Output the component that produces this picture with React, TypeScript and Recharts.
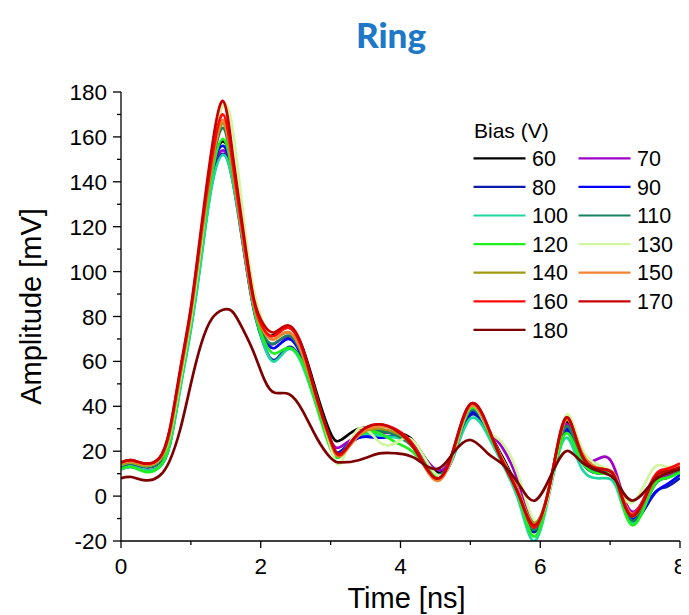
import React from "react";
import { LineChart, Line, XAxis, YAxis } from "recharts";

// Sample times (ns)
const time = [0, 0.15, 0.35, 0.55, 0.7, 0.85, 1.0, 1.15, 1.3, 1.46, 1.6, 1.75, 1.9, 2.05, 2.2, 2.4, 2.6, 2.8, 3.0, 3.15, 3.4, 3.7, 3.95, 4.2, 4.5, 4.75, 5.0, 5.25, 5.45, 5.7, 5.92, 6.15, 6.37, 6.6, 6.9, 7.1, 7.32, 7.6, 7.8, 8.0];

// Amplitude (mV) per bias voltage
const v60 = [13, 14.5, 13, 15, 26, 52, 79, 112, 145, 158, 145, 114, 86, 73, 72, 75, 66, 46, 28, 25, 30, 29.4, 28, 24, 11, 19, 39, 30, 18, 1, -14, 6, 33, 18, 11, 7, -10, 4, 9, 12];
const v70 = [13, 14.5, 13, 15, 25, 51, 77, 110, 142, 154, 142, 112, 84, 70, 68, 71, 62, 43, 25, 22, 27, 28, 28, 23, 12, 19, 38, 30, 22, 5, -12, 6, 32, 17, 17.5, 9, -7, 5, 9, 12];
const v80 = [12, 13, 11.5, 13, 23, 49, 75, 107, 139, 152.5, 140, 111, 83, 67, 60.6, 66.4, 59, 41, 23, 20, 26, 26, 27, 22, 10, 17, 36, 28, 16, -2, -16, 5, 29, 15, 10, 5, -11, 0, 4, 8];
const v90 = [13, 14.5, 13, 15, 25, 51, 78, 111, 144, 156, 143, 113, 84, 70, 66, 70, 61, 42, 23, 20, 26, 26, 27, 22, 10, 18, 37, 29, 16, -1, -15, 6, 30, 16, 11, 6, -10, -0.4, 5, 9.5];
const v100 = [12, 13, 11.5, 13, 23, 48, 74, 106, 138, 152, 140, 112, 84, 67, 60, 65.5, 58, 40, 22, 19, 27, 27, 26, 21, 10, 17, 34.5, 27, 15, -3, -20, 4, 26, 12, 8, 3, -12, 3, 8, 11];
const v110 = [13, 14.5, 13, 15, 26, 53, 80, 114, 146, 164, 144, 113, 85, 71, 68, 71.5, 62, 42, 23, 19, 27, 29, 27, 21, 10, 18, 38, 29, 17, 0, -15, 6, 31, 17, 11, 6, -11, 3, 8, 11];
const v120 = [12, 13, 10.8, 13, 24, 50, 77, 110, 143, 159, 143, 113, 84, 69, 63.5, 66, 59, 40, 21, 18, 27, 28, 23.6, 19, 9, 18, 39, 29, 16, -1, -18, 5, 28, 15, 10, 5, -13, 3, 8, 10.5];
const v130 = [14, 15, 13.5, 16, 27, 52, 79, 113, 150, 174, 163, 125, 92, 76, 70, 73, 64, 44, 22, 15, 30, 24, 24, 24, 10, 18, 40, 30, 24, 8, -11, 5, 36, 21, 13, 6, -3, 11.5, 13, 14];
const v140 = [14, 15, 13.5, 16, 28, 54, 81, 115, 147, 166, 145, 113, 85, 73, 70, 73, 63, 43, 24, 18, 27, 30, 28, 21, 8, 19, 40, 30, 17, 1, -12, 7, 34, 19, 12, 7, -9, 5, 10, 12];
const v150 = [14.5, 15.5, 14, 16.5, 29, 55, 82, 116, 148, 167.5, 146, 114, 86, 73, 70, 73, 63, 43, 24, 18, 27, 31, 29, 21, 7, 19, 40, 30, 17, 1, -13, 7, 34, 19, 12, 7, -8, 6, 11, 13];
const v160 = [15, 16, 14.5, 17, 30, 56, 83, 118, 150, 170, 148, 116, 87, 74, 71.5, 75, 65, 44, 25, 18.5, 28, 32, 29.5, 22, 8, 20, 41, 31, 16, 0, -14, 7, 35, 18, 12, 6, -8.5, 7, 12, 14.5];
const v170 = [15, 16, 14.5, 17, 30, 57, 84, 120, 155, 176, 152, 118, 88, 76, 73, 76, 66, 44, 25, 19, 28, 32, 29, 21, 8, 20, 41, 31, 16, 0, -13, 7, 35, 18, 12, 6, -9, 6, 11, 13];
const v180 = [8, 8.5, 7, 9, 16, 30, 50, 68, 79, 83, 82, 74, 64, 52, 46, 45.5, 38, 26, 17, 15, 16, 19, 19, 17, 12, 19, 25, 19, 14.5, 5, -2, 9, 20, 15, 10.5, 6, -2, 6, 10, 12];

const biasLabels = ["60", "70", "80", "90", "100", "110", "120", "130", "140", "150", "160", "170", "180"];
const biasValues = [v60, v70, v80, v90, v100, v110, v120, v130, v140, v150, v160, v170, v180];
const biasColors = ["#000000", "#9E00C8", "#0A1EAA", "#0000FF", "#1ED8A0", "#178060", "#1EF01E", "#D2F5A0", "#A09A14", "#F08232", "#FF0A0A", "#C80000", "#7D0000"];

const xTicks = [0, 1, 2, 3, 4, 5, 6, 7, 8];
const yTicks = [-20, -10, 0, 10, 20, 30, 40, 50, 60, 70, 80, 90, 100, 110, 120, 130, 140, 150, 160, 170, 180];

const rows = time.map((t, i) => {
  const row: Record<string, number> = { t };
  biasLabels.forEach((b, k) => {
    row["b" + b] = biasValues[k][i];
  });
  return row;
});

const FONT = "'Liberation Sans', Arial, sans-serif";

const XTick = (props: any) => {
  const { x, y, payload } = props;
  const v = payload.value as number;
  const major = v % 2 === 0;
  return (
    <g>
      <line x1={x} x2={x} y1={y} y2={y + (major ? 7 : 4)} stroke="#000" strokeWidth={1.3} />
      {major && (
        <text x={x} y={y + 33} textAnchor="middle" fontSize={22.5} fontFamily={FONT} fill="#000">
          {v}
        </text>
      )}
    </g>
  );
};

const YTick = (props: any) => {
  const { x, y, payload } = props;
  const v = payload.value as number;
  const major = v % 20 === 0;
  return (
    <g>
      <line x1={x - (major ? 8 : 4)} x2={x} y1={y} y2={y} stroke="#000" strokeWidth={1.3} />
      {major && (
        <text x={x - 14} y={y + 8} textAnchor="end" fontSize={22.5} fontFamily={FONT} fill="#000">
          {v}
        </text>
      )}
    </g>
  );
};

// Two-column key of bias voltages
const BiasLegend = () => {
  const rowH = 28.6;
  return (
    <svg width={210} height={240} style={{ display: "block" }}>
      <text x={5} y={21.5} fontSize={21} fontFamily={FONT} fill="#000">
        Bias (V)
      </text>
      {biasLabels.map((b, k) => {
        const col = k % 2;
        const r = Math.floor(k / 2);
        const x0 = 4.5 + col * 105;
        const yy = 42.3 + r * rowH;
        return (
          <g key={b}>
            <line x1={x0} x2={x0 + 52} y1={yy} y2={yy} stroke={biasColors[k]} strokeWidth={2.2} />
            <text x={x0 + 58.5} y={yy + 7.7} fontSize={21.5} fontFamily={FONT} fill="#000">
              {b}
            </text>
          </g>
        );
      })}
    </svg>
  );
};

export default function App() {
  return (
    <div style={{ position: "relative", width: 681, height: 607, background: "#fff" }}>
      <div
        style={{
          position: "absolute",
          left: 0,
          top: 5,
          width: 766,
          textAlign: "center",
          fontFamily: "Lato, 'Open Sans', sans-serif",
          fontWeight: 900,
          fontSize: 35,
          color: "#1E78C8",
          lineHeight: "42px",
        }}
      >
        Ring
      </div>
      <LineChart
        width={681}
        height={607}
        data={rows}
        margin={{ top: 84, right: 9, bottom: 4, left: 53 }}
        style={{ position: "absolute", left: 0, top: 0 }}
      >
        <XAxis
          dataKey="t"
          type="number"
          domain={[0, 8]}
          ticks={xTicks}
          interval={0}
          tickSize={0}
          tickMargin={0}
          tickLine={false}
          tick={<XTick />}
          axisLine={{ stroke: "#000", strokeWidth: 1.3 }}
          height={70}
          allowDataOverflow
          label={{ value: "Time [ns]", position: "insideBottom", offset: 3, dx: 6, fontSize: 29, fontFamily: FONT, fill: "#000" }}
        />
        <YAxis
          type="number"
          domain={[-20, 180]}
          ticks={yTicks}
          interval={0}
          tickSize={0}
          tickMargin={0}
          tickLine={false}
          tick={<YTick />}
          axisLine={{ stroke: "#000", strokeWidth: 1.3 }}
          width={60}
          allowDataOverflow
          label={{ value: "Amplitude [mV]", angle: -90, position: "center", dx: -60, dy: -10, fontSize: 29, fontFamily: FONT, fill: "#000" }}
        />
        {biasLabels.map((b, k) => (
          <Line
            key={b}
            dataKey={"b" + b}
            name={b}
            type="natural"
            stroke={biasColors[k]}
            strokeWidth={2.7}
            dot={false}
            activeDot={false}
            isAnimationActive={false}
          />
        ))}
      </LineChart>
      <div style={{ position: "absolute", left: 461, top: 108 }}>
        <BiasLegend />
      </div>
    </div>
  );
}
